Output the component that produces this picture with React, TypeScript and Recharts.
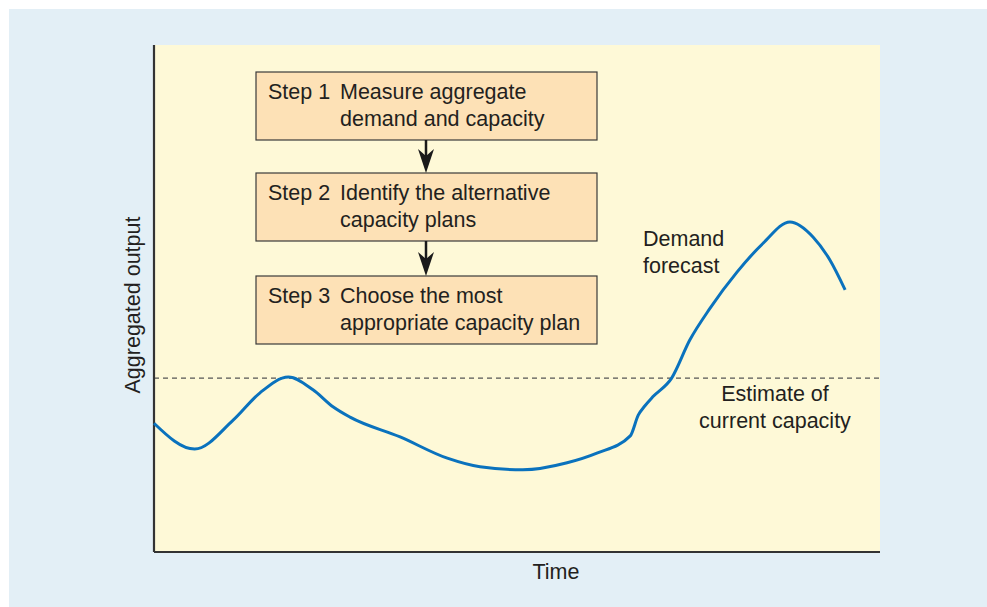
import React from 'react';
import { LineChart, Line, XAxis, YAxis, CartesianGrid, ReferenceLine, Customized } from 'recharts';

const timePoints = [0, 5.6, 10.9, 14.6, 18.5, 21.9, 24.7, 27.0, 33.9, 40.4, 44.9, 50.8, 56.9, 61.0, 65.6, 66.7, 67.6, 68.7, 71.3, 73.8, 76.6, 80.3, 83.9, 87.6, 90.8, 93.1, 95.2];
const demandValues = [25.4, 20.3, 26.0, 31.4, 34.5, 32.0, 28.6, 26.6, 22.7, 18.5, 16.8, 16.2, 17.6, 19.5, 22.9, 27.0, 28.8, 30.6, 34.3, 41.8, 48.1, 55.2, 60.9, 65.1, 62.1, 57.6, 51.7];
const currentCapacity = 34.3;

const steps = [
  { label: 'Step 1', lines: ['Measure aggregate', 'demand and capacity'] },
  { label: 'Step 2', lines: ['Identify the alternative', 'capacity plans'] },
  { label: 'Step 3', lines: ['Choose the most', 'appropriate capacity plan'] },
];

const data = timePoints.map((t, i) => ({ t, demand: demandValues[i] }));

const FONT = '"Liberation Sans", Arial, Helvetica, sans-serif';
const TEXT = '#231f20';
const FS = 21.5;

const Annotations = () => {
  const boxX = 256;
  const boxW = 341;
  const boxTops = [72, 173, 276];
  const boxH = 68;
  const arrowX = 426;
  return (
    <g fontFamily={FONT} fill={TEXT}>
      {steps.map((s, i) => (
        <g key={s.label}>
          <rect x={boxX} y={boxTops[i]} width={boxW} height={boxH} fill="#fde1b6" stroke="#3a3a3a" strokeWidth={1.2} />
          <text x={268} y={boxTops[i] + 20} fontSize={FS} dominantBaseline="central" fill={TEXT}>{s.label}</text>
          <text x={340} y={boxTops[i] + 20} fontSize={FS} dominantBaseline="central" fill={TEXT}>{s.lines[0]}</text>
          <text x={340} y={boxTops[i] + 47} fontSize={FS} dominantBaseline="central" fill={TEXT}>{s.lines[1]}</text>
        </g>
      ))}
      {[0, 1].map((i) => {
        const y0 = boxTops[i] + boxH;
        const y1 = boxTops[i + 1];
        return (
          <g key={'a' + i}>
            <line x1={arrowX} y1={y0} x2={arrowX} y2={y1 - 10} stroke="#1a1a1a" strokeWidth={2.5} />
            <polygon points={`${arrowX},${y1} ${arrowX - 8},${y1 - 24} ${arrowX},${y1 - 17} ${arrowX + 8},${y1 - 24}`} fill="#1a1a1a" />
          </g>
        );
      })}
      <text x={643} y={239} fontSize={FS} dominantBaseline="central" fill={TEXT}>Demand</text>
      <text x={643} y={266} fontSize={FS} dominantBaseline="central" fill={TEXT}>forecast</text>
      <text x={775} y={394} fontSize={FS} textAnchor="middle" dominantBaseline="central" fill={TEXT}>Estimate of</text>
      <text x={775} y={421} fontSize={FS} textAnchor="middle" dominantBaseline="central" fill={TEXT}>current capacity</text>
      <text x={556} y={572} fontSize={FS} textAnchor="middle" dominantBaseline="central" fill={TEXT}>Time</text>
      <text x={133} y={305} fontSize={FS} textAnchor="middle" dominantBaseline="central" fill={TEXT} transform="rotate(-90 133 305)">Aggregated output</text>
    </g>
  );
};

export default function App() {
  return (
    <div style={{ position: 'absolute', left: 0, top: 0, width: 987, height: 607, background: '#ffffff', overflow: 'hidden' }}>
      <div style={{ position: 'absolute', left: 9, top: 9, width: 978, height: 598, background: '#e3eff6' }} />
      <div style={{ position: 'absolute', left: 0, top: 0 }}>
        <LineChart width={987} height={607} data={data} margin={{ top: 45, right: 107, bottom: 55, left: 154 }}>
          <CartesianGrid horizontal={false} vertical={false} fill="#fef9d7" />
          <XAxis type="number" dataKey="t" domain={[0, 100]} hide />
          <YAxis type="number" domain={[0, 100]} hide />
          <ReferenceLine y={currentCapacity} stroke="#555555" strokeWidth={1.3} strokeDasharray="5 4" />
          <ReferenceLine x={0} stroke="#333333" strokeWidth={2.2} />
          <ReferenceLine y={0} stroke="#333333" strokeWidth={2.2} />
          <Line type="monotone" dataKey="demand" stroke="#0a72bd" strokeWidth={3} dot={false} isAnimationActive={false} />
          <Customized component={Annotations} />
        </LineChart>
      </div>
    </div>
  );
}
